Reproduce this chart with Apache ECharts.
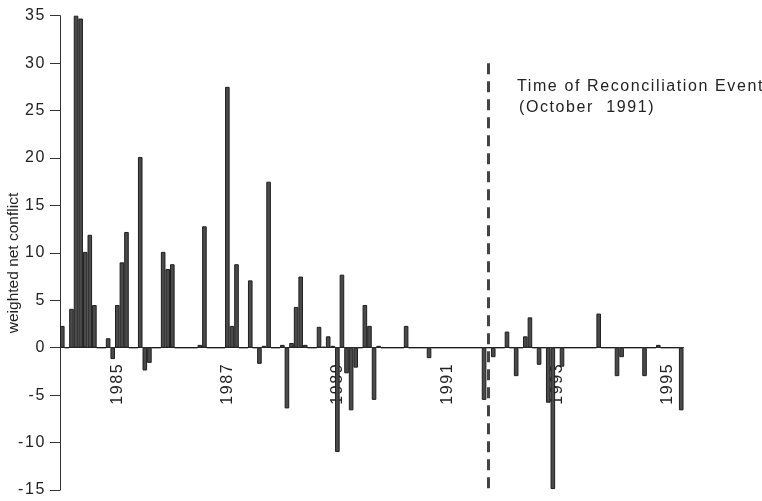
<!DOCTYPE html>
<html><head><meta charset="utf-8">
<script src="https://cdn.jsdelivr.net/npm/echarts@6/dist/echarts.min.js"></script>
<style>html,body{margin:0;padding:0;background:#fff}#c{width:762px;height:501px}</style>
</head><body><div id="c"></div>
<script>
// small letter spacing for 16px texts (the reference text is spaced out)
(function(){
  var P = CanvasRenderingContext2D.prototype;
  if (!('letterSpacing' in P)) return;
  var f = P.fillText, m = P.measureText;
  function ls(ctx){ ctx.letterSpacing = /(^|\s)16px/.test(ctx.font) ? '1.6px' : '0px'; }
  P.fillText = function(){ ls(this); return f.apply(this, arguments); };
  P.measureText = function(){ ls(this); return m.apply(this, arguments); };
})();

const startYear = 1984;
const monthCount = 136;
const categories = [];
for (let i = 0; i < monthCount; i++) {
  categories.push((startYear + Math.floor(i / 12)) + '-' + String(i % 12 + 1).padStart(2, '0'));
}
const yearLabels = ['1985', '1987', '1989', '1991', '1993', '1995'];
const conflictValues = [
  2.3, 0, 4.1, 35.0, 34.7, 10.1, 11.9, 4.5, 0, 0, 1.0, -1.2,      // 1984
  4.5, 9.0, 12.2, 0, 0, 20.1, -2.4, -1.6, 0, 0, 10.1, 8.3,        // 1985
  8.8, 0, 0, 0, 0, 0, 0.3, 12.8, 0, 0, 0, 0,                      // 1986
  27.5, 2.3, 8.8, 0, 0, 7.1, 0, -1.7, 0.2, 17.5, 0, 0,            // 1987
  0.3, -6.4, 0.5, 4.3, 7.5, 0.3, 0, 0, 2.2, 0.1, 1.2, 0.2,        // 1988
  -11.0, 7.7, -2.7, -6.6, -2.1, 0, 4.5, 2.3, -5.5, 0.2, 0, 0,     // 1989
  0, 0, 0, 2.3, 0, 0, 0, 0, -1.1, 0, 0, 0,                        // 1990
  0, 0, 0, 0, 0, 0, 0, 0, -5.5, 0, -1.0, 0,                       // 1991
  0, 1.7, 0, -3.0, 0, 1.2, 3.2, 0, -1.8, 0, -5.8, -14.9,          // 1992
  0, -2.0, 0, 0, 0, 0, 0, 0, 0, 3.6, 0, 0,                        // 1993
  0, -3.0, -1.0, 0, 0, 0, 0, -3.0, 0, 0, 0.3, 0,                  // 1994
  0, 0, 0, -6.6                                                   // 1995
];
const eventMonth = '1991-10';
const eventRange = [30, -15];
const annotationLines = ['Time of Reconciliation Event', '(October  1991)'];
const yAxisName = 'weighted net conflict';

const chart = echarts.init(document.getElementById('c'), null, {renderer: 'canvas'});
const FONT = 'Liberation Sans, Arial, sans-serif';
const GRID = {left: 60, right: 78.5, top: 15.7, bottom: 11};
chart.setOption({
  animation: false,
  backgroundColor: '#fff',
  grid: Object.assign({containLabel: false, outerBoundsMode: 'none'}, GRID),
  xAxis: {
    type: 'category',
    data: categories,
    boundaryGap: true,
    offset: 0,
    axisLine: {show: true, onZero: false, lineStyle: {color: '#333', width: 1}},
    axisTick: {show: false},
    splitLine: {show: false},
    axisLabel: {
      interval: function (idx, val) { return val.endsWith('-01') && yearLabels.includes(val.slice(0, 4)); },
      formatter: function (val) { return val.slice(0, 4); },
      rotate: 90, margin: 15, fontSize: 16, color: '#222', fontFamily: FONT
    }
  },
  yAxis: {
    type: 'value', min: -15, max: 35, interval: 5,
    splitLine: {show: false},
    axisLine: {show: true, lineStyle: {color: '#333', width: 1}},
    axisTick: {show: true, length: 10, lineStyle: {color: '#333', width: 1}},
    axisLabel: {margin: 14, fontSize: 16, color: '#222', fontFamily: FONT}
  },
  graphic: [
    {type: 'text', x: 14, y: 263, rotation: Math.PI / 2,
     style: {text: yAxisName, fontSize: 15.5, fontFamily: FONT, fill: '#222', align: 'center', verticalAlign: 'middle'}},
    {type: 'text', x: 517, y: 87,
     style: {text: annotationLines[0], fontSize: 16, fontFamily: FONT, fill: '#222', align: 'left', verticalAlign: 'middle'}},
    {type: 'text', x: 519, y: 108,
     style: {text: annotationLines[1], fontSize: 16, fontFamily: FONT, fill: '#222', align: 'left', verticalAlign: 'middle'}}
  ],
  series: [{
    type: 'bar',
    data: conflictValues,
    barCategoryGap: '0%',
    silent: true,
    itemStyle: {color: '#4a4a4a', borderColor: '#1e1e1e', borderWidth: 1},
    markLine: {
      silent: true,
      symbol: ['none', 'none'],
      label: {show: false},
      lineStyle: {type: [11, 7], width: 3, color: '#444'},
      data: [[{coord: [eventMonth, eventRange[0]]}, {coord: [eventMonth, eventRange[1]]}]]
    }
  }]
});
// move the category axis (line + labels) up to the zero value line
const zeroY = chart.convertToPixel({yAxisIndex: 0}, 0);
const gridBottomY = chart.getHeight() - GRID.bottom;
chart.setOption({xAxis: {offset: zeroY - gridBottomY}});
</script></body></html>
